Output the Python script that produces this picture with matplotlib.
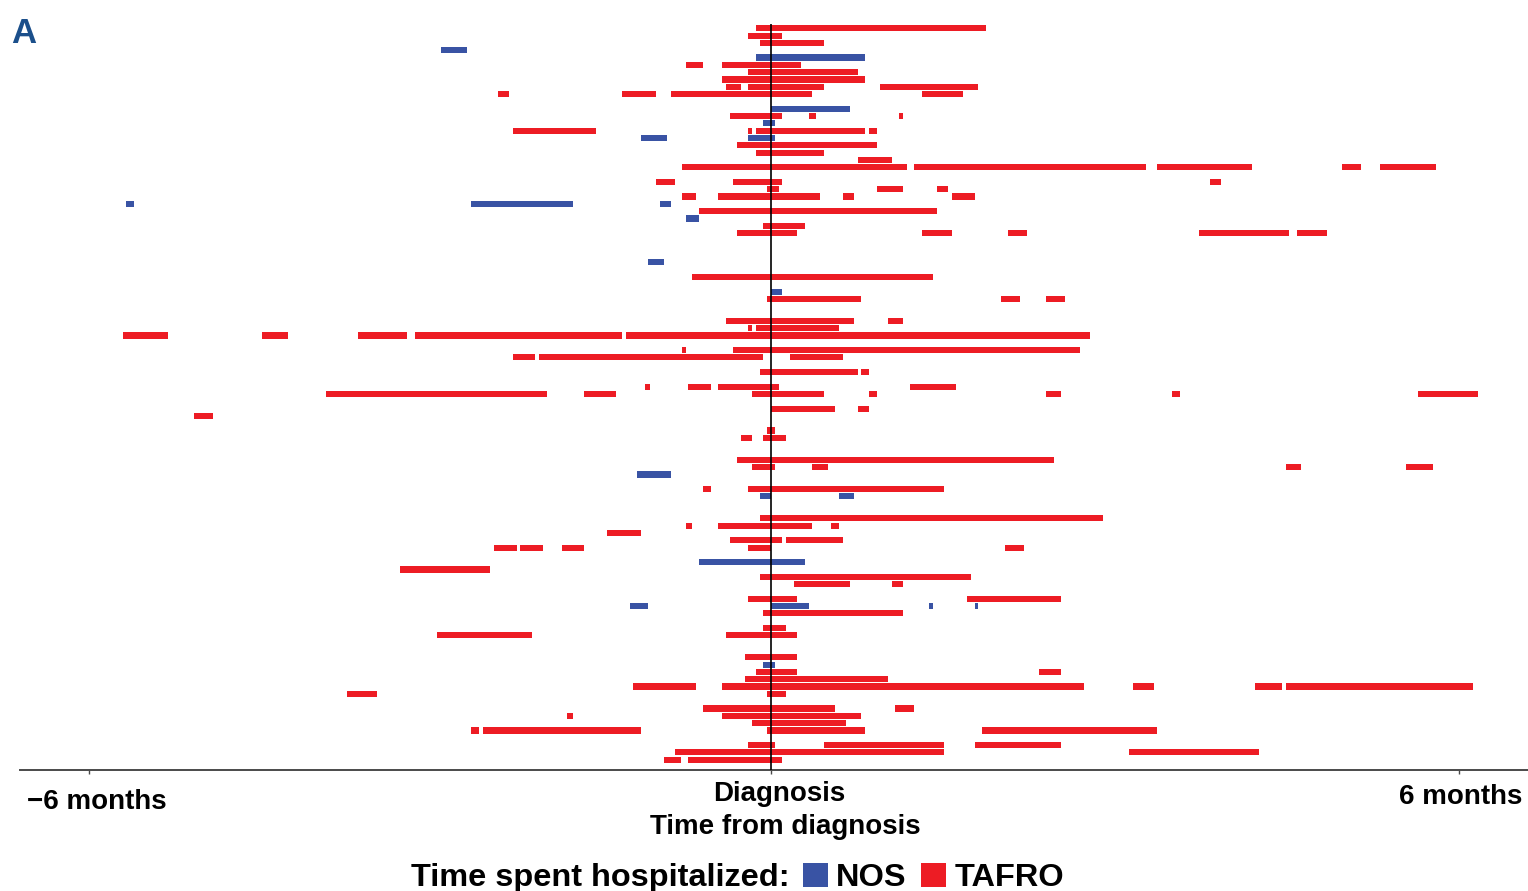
import matplotlib
matplotlib.use("Agg")
import matplotlib.pyplot as plt
from matplotlib.patches import Patch
from matplotlib.transforms import ScaledTranslation
import numpy as np

plt.rcParams['font.family'] = ['Liberation Sans', 'DejaVu Sans']
plt.rcParams['font.weight'] = 'bold'

# ---------------- data: hospitalization periods (days from diagnosis) ----------------
# patient = row index from the top (0 .. 100)
tafro_patient = [0, 1, 2, 5, 5, 6, 7, 8, 8, 8, 9, 9, 9, 9, 12, 12, 12,
                 14, 14, 14, 14, 16, 17, 18, 19, 19, 19, 19, 19,
                 21, 21, 21, 22, 22, 22, 23, 23, 23, 23, 25, 27,
                 28, 28, 28, 28, 28, 34, 37, 37, 37, 40, 40, 41, 41,
                 42, 42, 42, 42, 42, 44, 44, 45, 45, 45, 47, 47,
                 49, 49, 49, 49, 50, 50, 50, 50, 50, 50, 50, 52, 52, 53,
                 55, 56, 56, 59, 60, 60, 60, 60, 63, 63, 67, 68, 68, 68,
                 69, 70, 70, 71, 71, 71, 71, 71, 74, 75, 76, 76, 78, 78,
                 80, 82, 83, 83, 86, 88, 88, 89, 90, 90, 90, 90, 90,
                 91, 91, 93, 93, 94, 94, 95, 96, 96, 96, 96, 98, 98, 98,
                 99, 99, 100, 100]
tafro_start = [-4, -6, -3, -22.5, -13, -6, -13, -12, -6, 29, -72.5, -39.5, -26.5, 40, -11, 10, 34,
               -68.5, -6, -4, 26, -9, -4, 23, -23.5, 38, 102.5, 151.5, 161.5,
               -30.5, -10, 116.5, -1, 28, 44, -23.5, -14, 19, 48, -19, -2,
               -9, 40, 63, 113.5, 139.5, -21, -1, 61, 73, -12, 31, -6, -4,
               -172, -135, -109.5, -94.5, -38.5, -23.5, -10, -68.5, -61.5, 5, -3, 24,
               -33.5, -22, -14, 37, -118, -49.5, -5, 26, 73, 106.5, 171.5, 0, 23, -153,
               -1, -8, -2, -9, -5, 11, 136.5, 168.5, -18, -6, -3, -22.5, -14, 16,
               -43.5, -11, 4, -73.5, -66.5, -55.5, -6, 62, -98.5, -3, 6, 32, -6, 52,
               -2, -2, -88.5, -12, -7, -4, 71, -7, -36.5, -13, 96, 128.5, 136.5,
               -112.5, -1, -18, 33, -54, -13, -5, -79.5, -76.5, -1, 56, -6, 14, 54,
               -25.5, 95, -28.5, -22]
tafro_end = [57, 3, 14, -18, 8, 23, 25, -8, 14, 55, -69.5, -30.5, 11, 51, 3, 12, 35,
             -46.5, -5, 25, 28, 28, 14, 32, 36, 99.5, 127.5, 156.5, 176.5,
             -25.5, 3, 119.5, 2, 35, 47, -20, 13, 22, 54, 44, 9,
             7, 48, 68, 137.5, 147.5, 43, 24, 66, 78, 22, 35, -5, 18,
             -160, -128, -96.5, -39.5, 84.5, -22.5, 82, -62.5, -2, 19, 23, 26,
             -32, -16, 2, 49, -59.5, -41, 14, 28, 77, 108.5, 187.5, 17, 26, -148,
             1, -5, 4, 75, 1, 15, 140.5, 175.5, -16, 46, 88, -21, 11, 18,
             -34.5, 3, 19, -67.5, -60.5, -49.5, 0, 67, -74.5, 53, 21, 35, 7, 77,
             35, 4, -63.5, 7, 7, 7, 77, 31, -20, 83, 101.5, 135.5, 186.3,
             -104.5, 4, 17, 38, -52.5, 24, 20, -77.5, -34.5, 25, 102.5, 1, 46, 77,
             46, 129.5, -24, 3]

nos_patient = [3, 4, 11, 13, 15, 15, 24, 24, 24, 26, 32, 36, 61, 64, 64, 73,
               79, 79, 79, 79, 87]
nos_start = [-87.5, -4, 0, -2, -34.5, -6, -171, -79.5, -29.5, -22.5, -32.5, 0, -35.5, -3, 18, -19,
             -37.5, 0, 42, 54, -2]
nos_end = [-80.5, 25, 21, 1, -27.5, 1, -169, -52.5, -26.5, -19, -28.5, 3, -26.5, 0, 22, 9,
           -32.5, 10, 43, 55, 1]

tick_days = [-181, 0, 182.5]
tick_labels = ['\u22126 months', 'Diagnosis', '6 months']
legend_labels = ['NOS', 'TAFRO']

NOS_COLOR = '#3953a4'
TAFRO_COLOR = '#ed1c24'

# ---------------- figure ----------------
W, H, DPI = 1528, 891, 100
fig = plt.figure(figsize=(W / DPI, H / DPI), dpi=DPI)
ax = fig.add_axes([20 / W, 1 - 770 / H, 1 - 20 / W, 750 / H])

tp = np.array(tafro_patient)
ts = np.array(tafro_start, dtype=float)
te = np.array(tafro_end, dtype=float)
npat = np.array(nos_patient)
ns = np.array(nos_start, dtype=float)
ne = np.array(nos_end, dtype=float)

bar_h = 0.84
ax.barh(tp, te - ts, left=ts, height=bar_h, color=TAFRO_COLOR, linewidth=0)
ax.barh(npat, ne - ns, left=ns, height=bar_h, color=NOS_COLOR, linewidth=0)

ax.set_xlim(-199.2, 200.8)
ax.set_ylim(101.41, -1.13)

ax.vlines(0, -0.55, 101.41, color='black', linewidth=1.2, zorder=5)

for s in ['top', 'right', 'left']:
    ax.spines[s].set_visible(False)
ax.spines['bottom'].set_color('#4a4a4a')
ax.spines['bottom'].set_linewidth(1.4)
ax.set_yticks([])
ax.set_xticks(tick_days)
ax.set_xticklabels(tick_labels, fontsize=20, fontweight='bold')
ax.tick_params(axis='x', length=3, width=1, color='#4a4a4a', pad=5)

offsets = [(8.5, -8), (8.5, 0), (2, -3)]
for lab, (dx, dy) in zip(ax.get_xticklabels(), offsets):
    lab.set_transform(lab.get_transform() + ScaledTranslation(dx / DPI, dy / DPI, fig.dpi_scale_trans))

ax.set_xlabel('Time from diagnosis', fontsize=20, fontweight='bold')
ax.xaxis.set_label_coords((785 - 20) / 1508, (770 - 814) / 750)

# panel letter
fig.text(11 / W, 1 - 43 / H, 'A', fontsize=25, fontweight='bold', color='#1b4f8b',
         va='baseline', ha='left')

# legend
fig.text(411 / W, 1 - 886 / H, 'Time spent hospitalized:', fontsize=23.4,
         fontweight='bold', va='baseline', ha='left')
handles = [Patch(facecolor=NOS_COLOR, edgecolor='none'),
           Patch(facecolor=TAFRO_COLOR, edgecolor='none')]
leg = fig.legend(handles, legend_labels, ncol=2, loc='lower left',
                 bbox_to_anchor=(803 / W, -2 / H), bbox_transform=fig.transFigure,
                 frameon=False, prop={'size': 23.4, 'weight': 'bold'},
                 handlelength=0.77, handleheight=0.77, handletextpad=0.25,
                 columnspacing=0.45, borderpad=0, borderaxespad=0)

fig.savefig('out.png', dpi=DPI)
